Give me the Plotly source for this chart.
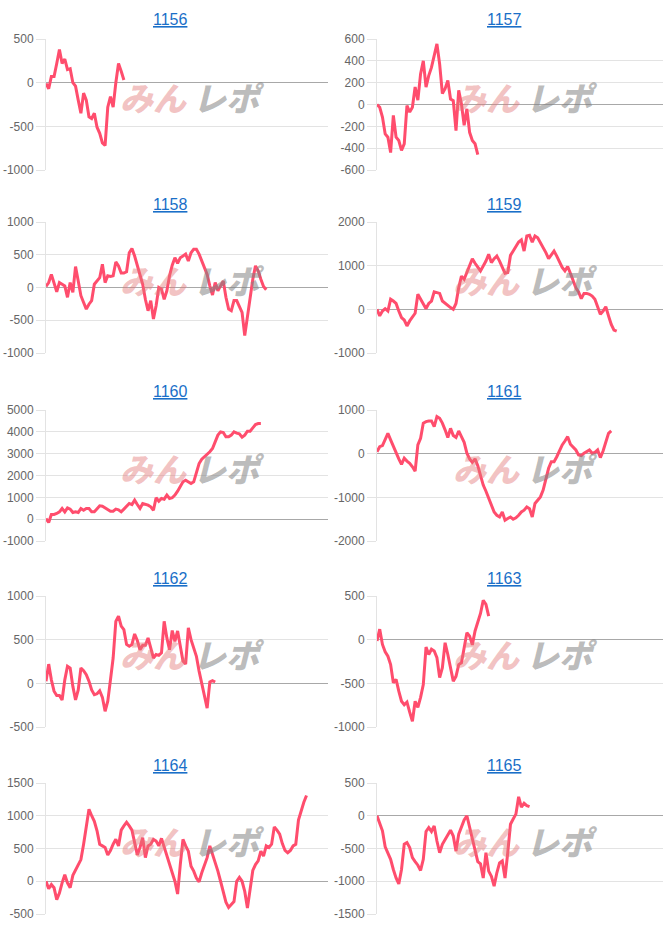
import plotly.graph_objects as go

N_LABELS = 106
labels = list(range(N_LABELS))

titles = ["1156", "1157", "1158", "1159", "1160", "1161", "1162", "1163", "1164", "1165"]

s1156 = [-10, -70, 70, 70, 220, 380, 220, 270, 150, 160, 0, -40, -200, -350, -120, -200,
         -390, -410, -350, -510, -580, -690, -720, -280, -160, -280, 0, 220, 130, 30]

s1157 = [0, -25, -115, -270, -300, -440, -100, -300, -330, -420, -360, -10, -70, -25, 160, 40,
         280, 400, 160, 265, 340, 450, 555, 370, 100, 145, 220, 50, 35, -240, 130, 5, -190, -40,
         -255, -330, -360, -460]

s1158 = [15, 75, 200, 50, -65, 75, 50, 25, -150, 75,
         -75, 320, 100, -125, -230, -330, -255, -200, 50, 100,
         150, 355, 75, 180, 170, 180, 390, 330, 220, 220,
         240, 530, 595, 480, 330, 180, 50, -180, -355, -200,
         -480, -280, 0, -25, -180, -50, 180, 340, 455, 370,
         455, 480, 510, 405, 530, 585, 585, 510, 405, 305,
         200, 25, -115, 75, -50, 25, 100, -150, -330, -355,
         -200, -200, -280, -380, -735, -455, -125, 125, 330, 255,
         125, 15, -35]

s1159 = [0, -150, -40, 15, -40, 230, 190, 135, -40, -190,
         -245, -380, -265, -170, -90, 345, 230, 150, 15, 135,
         190, 400, 380, 365, 190, 135, 90, 40, 0, 135,
         495, 760, 690, 840, 1010, 1160, 1055, 980, 880, 990,
         1105, 1260, 1070, 1160, 1220, 1105, 980, 825, 840, 1235,
         1335, 1450, 1540, 1590, 1335, 1680, 1695, 1540, 1680, 1640,
         1525, 1435, 1300, 1160, 1260, 1335, 1220, 1085, 960, 880,
         980, 825, 650, 495, 400, 245, 365, 365, 345, 305,
         230, 60, -115, -40, 60, -150, -345, -475, -500]

s1160 = [30, -150, 215, 215, 260, 335, 490, 335, 520, 460,
         305, 335, 305, 490, 410, 490, 490, 335, 335, 490,
         610, 595, 520, 410, 365, 365, 460, 430, 335, 460,
         610, 720, 670, 870, 670, 490, 720, 690, 640, 565,
         410, 980, 825, 945, 915, 1100, 945, 980, 1100, 1280,
         1525, 1710, 1785, 1710, 1635, 1710, 2200, 2550, 2750, 2855,
         2960, 3085, 3235, 3540, 3850, 4000, 3970, 3770, 3770, 3850,
         4000, 3940, 3910, 3755, 3850, 4030, 4030, 4180, 4335, 4380, 4380]

s1161 = [45, 160, 185, 315, 465, 315, 160, 10, -120,
         -245, -105, -170, -220, -300, -400, 200, 350, 700, 735,
         750, 750, 620, 850, 810, 700, 545, 370, 580, 415,
         370, 520, 390, 260, 10, -120, -200, -120, -275, -505,
         -720, -860, -1025, -1180, -1335, -1410, -1450, -1335, -1525, -1485,
         -1450, -1500, -1470, -1410, -1335, -1295, -1220, -1260, -1450, -1140,
         -1065, -990, -835, -570, -335, -185, -185, -70, 85, 200,
         290, 390, 215, 140, 85, -30, -45, 10, 45, 85,
         10, 30, 85, -90, 60, 240, 465, 520]

s1162 = [25, 220, 40, -90, -140, -140, -190, 40, 195,
         175, -35, -190, -75, 175, 145, 100, 25, -75, -130,
         -120, -85, -160, -320, -205, 40, 290, 710, 770,
         655, 615, 445, 425, 445, 565, 490, 385, 435, 435,
         520, 405, 290, 330, 320, 350, 710, 520, 385, 605,
         480, 600, 425, 255, 220, 635, 500, 405, 310, 140,
         -10, -150, -285, 15, 30, 15]

s1163 = [-15, 120, -55, -140, -190, -285, -495, -455, -590,
         -705, -745, -715, -830, -935, -705, -775, -660, -515,
         -85, -170, -110, -130, -205, -435, -320, -35,
         -170, -305, -475, -420, -285, -265, -110, 80, 40, -60,
         100, 195, 300, 450, 405, 270]

s1164 = [0, -115, -50, -100, -280, -180, -25, 100, -25,
         -100, 90, 165, 245, 330, 565, 850, 1100, 1000,
         915, 770, 565, 540, 515, 400, 470, 565, 640, 540,
         780, 845, 900, 845, 780, 590, 400, 515, 665,
         360, 540, 565, 640, 615, 540, 655, 515,
         410, 255, 130, 0, -195, 255, 640, 540, 460, 230,
         155, 50, -10, 130, 255, 360, 540, 410, 300, 155,
         0, -155, -320, -400, -360, -310, 0, 60, 0, -155,
         -410, -155, 165, 255, 310, 460, 385, 540, 515,
         565, 830, 780, 720, 575, 470, 435, 470, 540,
         565, 935, 1075, 1205, 1310]

s1165 = [0, -130, -230, -475, -565, -665, -820, -950,
         -1040, -820, -435, -410, -485, -640, -700,
         -755, -835, -665, -240, -180, -240, -155, -385, -565,
         -435, -360, -290, -220, -310, -540, -280, -155,
         -65, 0, -180, -385, -540, -700, -735, -950, -565,
         -845, -925, -1075, -870, -720, -690, -950, -565,
         -130, -50, 25, 290, 130, 190, 155, 140]

series = [s1156, s1157, s1158, s1159, s1160, s1161, s1162, s1163, s1164, s1165]

y_ranges = [(-1000, 500), (-600, 600), (-1000, 1000), (-1000, 2000), (-1000, 5000),
            (-2000, 1000), (-500, 1000), (-1000, 500), (-500, 1500), (-1500, 500)]
y_steps = [500, 200, 500, 1000, 1000, 1000, 500, 500, 500, 500]

W, H = 666, 930
col_x = [(46, 328), (377, 663)]
row_y = [(39, 170), (222, 353), (410, 541), (596, 727), (783, 914)]
title_y = [20, 204, 391, 578, 765]
title_x = [170, 505]

LINE = "#ff4d6d"
fig = go.Figure()
annotations = []
layout = {}

for i, (name, data) in enumerate(zip(titles, series)):
    r, c = divmod(i, 2)
    k = i + 1
    xa = "xaxis" if k == 1 else f"xaxis{k}"
    ya = "yaxis" if k == 1 else f"yaxis{k}"
    xr = "x" if k == 1 else f"x{k}"
    yr = "y" if k == 1 else f"y{k}"
    x0, x1 = col_x[c]
    yt, yb = row_y[r]
    lo, hi = y_ranges[i]
    step = y_steps[i]
    tv = list(range(lo, hi + 1, step))
    layout[xa] = dict(domain=[x0 / W, x1 / W], range=[0, N_LABELS - 1], visible=False,
                      anchor=yr, fixedrange=True, automargin=False)
    layout[ya] = dict(domain=[1 - yb / H, 1 - yt / H], range=[lo, hi], anchor=xr,
                      tickvals=tv, ticktext=[str(v) for v in tv], automargin=False,
                      ticks="outside", ticklen=9, tickcolor="#e3e3e3",
                      showgrid=True, gridcolor="#e3e3e3", gridwidth=1,
                      zeroline=True, zerolinecolor="#a8a8a8", zerolinewidth=1,
                      showline=True, linecolor="#e3e3e3", linewidth=1,
                      tickfont=dict(family="Liberation Sans, Arial", size=12, color="#666666"),
                      fixedrange=True)
    fig.add_trace(go.Scatter(x=labels[:len(data)], y=data, mode="lines",
                             line=dict(color=LINE, width=3), xaxis=xr, yaxis=yr,
                             hoverinfo="skip", showlegend=False))
    annotations.append(dict(text=f"<u>{name}</u>", x=title_x[c] / W, y=1 - title_y[r] / H,
                            xref="paper", yref="paper", showarrow=False,
                            xanchor="center", yanchor="middle",
                            font=dict(family="Liberation Sans, Arial", size=16, color="#1a6fc8")))
    cx = (x0 + x1) / 2 + 3
    cy = (yt + yb) / 2 - 8
    annotations.append(dict(text="<i>みん</i>", x=(cx - 1) / W, y=1 - cy / H,
                            xref="paper", yref="paper", showarrow=False,
                            xanchor="right", yanchor="middle",
                            font=dict(family="Noto Sans CJK JP", size=33, weight=900,
                                      color="rgba(226,120,120,0.45)")))
    annotations.append(dict(text="<i>レポ</i>", x=(cx + 1) / W, y=1 - cy / H,
                            xref="paper", yref="paper", showarrow=False,
                            xanchor="left", yanchor="middle",
                            font=dict(family="Noto Sans CJK JP", size=33, weight=900,
                                      color="rgba(130,130,130,0.55)")))

fig.update_layout(width=W, height=H, margin=dict(l=0, r=0, t=0, b=0),
                  paper_bgcolor="white", plot_bgcolor="white",
                  annotations=annotations, showlegend=False, **layout)

fig.write_html("out.html", config={"displayModeBar": False})
